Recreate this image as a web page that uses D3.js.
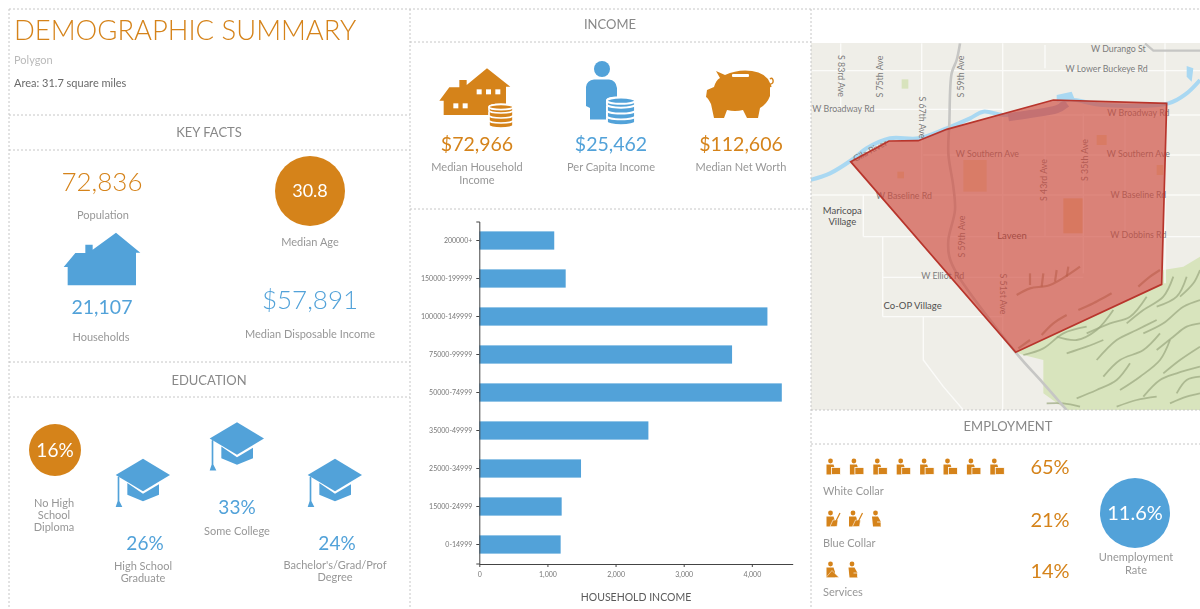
<!DOCTYPE html>
<html lang="en">
<head>
<meta charset="UTF-8">
<title>Demographic Summary</title>
<style>
	html,body{margin:0;background:#fff;}
	svg{display:block;filter:blur(0.4px);}
	text{font-family:Lato,"Open Sans",sans-serif;}
	.divider{stroke:#c6c6c6;stroke-width:1;stroke-dasharray:2 2;fill:none;}
	.road{fill:none;stroke:#fbfbf9;stroke-width:1.4;}
	.maplabel{font-size:8.8px;fill:#7c7c7c;}
	.axis path,.axis line{stroke:#444;}
	.axis text{fill:#777;font-size:7px;}
</style>
</head>
<body>
<script src="https://d3js.org/d3.v7.min.js"></script>
<script>
var ORANGE='#d5831a', BLUE='#52a2d9', GREY='#979797', TITLE='#888888';

// household income bars
var incomeBands=['200000+','150000-199999','100000-149999','75000-99999','50000-74999','35000-49999','25000-34999','15000-24999','0-14999'];
var incomeCounts=[1100,1268,4229,3710,4440,2482,1493,1209,1194];
var incomeTicks=[0,1000,2000,3000,4000];

// headline figures
var keyFactLabels=['Population','Households','Median Age','Median Disposable Income'];
var keyFactValues=['72,836','21,107','30.8','$57,891'];
var incomeLabels=[['Median Household','Income'],['Per Capita Income'],['Median Net Worth']];
var incomeValues=['$72,966','$25,462','$112,606'];
var eduLabels=[['No High','School','Diploma'],['High School','Graduate'],['Some College'],["Bachelor's/Grad/Prof",'Degree']];
var eduValues=['16%','26%','33%','24%'];
var jobLabels=['White Collar','Blue Collar','Services'];
var jobValues=['65%','21%','14%'];
var jobIcons=[[0,0,0,0,0,0,0,0],[1,1,3],[2,3]];

// map, in map units
var areaOutline=[[122,365],[237,303],[325,302],[410,268],[730,180],[1070,190],[1055,733],[617,937]];
var riverLine=[[0,420],[60,400],[125,360],[170,325],[240,295],[325,295],[410,265],[480,235],[520,215],[580,225],[660,220],[740,205],[770,180],[880,195],[1075,190],[1130,160],[1170,120]];
var riverMarsh=[[595,232],[660,222],[740,208],[770,190]];
var freewayLine=[[450,10],[440,60],[425,100],[418,250],[415,340],[430,440],[435,510],[415,600],[418,650],[440,700],[617,937],[700,1030],[770,1110]];
var topRoad=[[1005,10],[1030,32],[1170,32]];
var roadLines=[
	[[0,92],[1170,92]],[[0,208],[580,208]],[[580,225],[1170,225]],[[340,345],[1170,345]],
	[[0,465],[1170,465]],[[160,590],[1170,590]],[[218,712],[820,712]],[[218,830],[580,830]],
	[[335,10],[335,470]],[[578,10],[578,1110]],[[705,15],[705,85]],[[705,240],[705,590]],
	[[820,220],[820,700]],[[945,225],[945,600]],[[1065,10],[1065,730]],[[218,590],[218,830]],
	[[160,465],[160,590]],[[340,830],[340,960],[400,1040],[460,1110]],[[92,10],[92,205]]
];
var hillArea=[[617,937],[1055,733],[1060,690],[1120,680],[1170,650],[1170,1110],[770,1110],[700,1060],[700,960],[640,945]];
var hillRidges=[
	[[640,945],[700,925],[760,880],[830,860]],[[740,890],[800,900],[860,870],[910,810]],[[830,880],[900,850],[960,830],[1010,770]],
	[[950,850],[1000,810],[1060,770],[1090,710]],[[1040,800],[1100,770],[1130,710]],[[1110,770],[1150,730],[1170,690]],
	[[770,940],[830,920],[880,900]],[[860,960],[920,900],[980,870],[1040,840]],[[1000,880],[1060,850],[1120,800],[1170,780]],
	[[880,1010],[930,960],[1000,930],[1050,880]],[[1040,930],[1090,890],[1130,860],[1170,850]],
	[[800,1075],[860,1050],[920,1020],[960,970]],[[930,1050],[990,1010],[1050,960],[1080,900]],[[1060,1000],[1110,960],[1170,920]],
	[[1000,1070],[1050,1020],[1100,1000],[1170,980]],[[1100,1060],[1130,1020],[1170,1010]],[[920,1100],[980,1080],[1040,1070]],
	[[1080,1090],[1130,1070],[1170,1060]],[[710,1090],[760,1090],[810,1100]]
];
var hillShadeInArea=[[[625,925],[660,900]],[[695,885],[730,850],[770,825]],[[805,810],[850,790],[905,760]],[[985,740],[1020,710],[1050,690]],
	[[620,765],[660,745],[720,735],[810,680]],[[660,700],[660,735]],[[700,700],[695,740]],[[740,690],[735,725]],[[775,680],[770,710]]];
var landUse=[[460,360,70,95,'#ecdcb5'],[760,475,60,105,'#eacfa0'],[860,285,30,30,'#ecd8ae'],[1040,375,20,30,'#ecd8ae'],[262,395,20,20,'#ecd8ae'],[275,118,20,28,'#d8e3bd']];
var ponds=[[[740,165],[785,155],[795,180],[740,185]],[[1130,78],[1150,85],[1145,125],[1130,110]]];
var mapLabels=[
	['W Durango St',925,37,0,0],['W Lower Buckeye Rd',890,97,0,0],['W Broadway Rd',100,215,0,0],['W Broadway Rd',985,227,0,0],
	['W Southern Ave',532,352,0,0],['W Southern Ave',985,350,0,0],['W Baseline Rd',282,476,0,0],['W Baseline Rd',985,473,0,0],
	['W Dobbins Rd',985,594,0,0],['W Elliot Rd',398,718,0,0],['S 83rd Ave',84,108,90,0],['S 75th Ave',219,110,-90,0],
	['S 67th Ave',326,232,90,0],['S 59th Ave',463,110,-90,0],['S 59th Ave',466,590,-90,0],['S 51st Ave',570,762,90,0],
	['S 43rd Ave',711,420,-90,0],['S 35th Ave',833,360,-90,0],['Gila River',185,340,-28,0],
	['Maricopa',97,523,0,1],['Village',97,554,0,1],['Laveen',606,598,0,1],['Co-OP Village',308,806,0,1]
];

var svg=d3.select('body').append('svg').attr('width',1200).attr('height',609);

function label(lines,x,y,opts){
	opts=opts||{};
	var t=svg.append('g');
	[].concat(lines).forEach(function(s,i){
		t.append('text').attr('x',x).attr('y',y+i*(opts.lh||12.5))
			.attr('text-anchor',opts.anchor||'middle')
			.attr('font-size',opts.size||11)
			.attr('font-weight',opts.weight||400)
			.attr('fill',opts.color||GREY)
			.text(s);
	});
}
// big figures go light, small ones would wash out under the blur
function big(s,x,y,size,color){label(s,x,y,{size:size,color:color,weight:size>=25?300:400});}
function badge(x,y,r,color,s,size){
	svg.append('circle').attr('cx',x).attr('cy',y).attr('r',r).attr('fill',color);
	label(s,x,y+size*0.36,{size:size,color:'#fff'});
}

// ---- map goes first so the panel lines sit on it
var mapX=d3.scaleLinear().domain([0,1170]).range([810,1200]);
var mapY=d3.scaleLinear().domain([0,1125]).range([40,415]);
var mapLine=d3.line().x(function(d){return mapX(d[0]);}).y(function(d){return mapY(d[1]);});
var smooth=d3.line().x(function(d){return mapX(d[0]);}).y(function(d){return mapY(d[1]);}).curve(d3.curveCatmullRom);

svg.append('defs').append('clipPath').attr('id','mapclip').append('rect')
	.attr('x',811).attr('y',43).attr('width',389).attr('height',367);
var map=svg.append('g').attr('clip-path','url(#mapclip)');
map.append('rect').attr('x',811).attr('y',43).attr('width',389).attr('height',367).attr('fill','#efeee8');
map.append('path').attr('d',mapLine(hillArea)+'Z').attr('fill','#d8e4bd');
map.selectAll('.ridge').data(hillRidges).enter().append('path').attr('d',smooth)
	.attr('fill','none').attr('stroke','#9aa67f').attr('stroke-width',1.8).attr('opacity',.7);
map.selectAll('.use').data(landUse).enter().append('rect')
	.attr('x',function(d){return mapX(d[0]);}).attr('y',function(d){return mapY(d[1]);})
	.attr('width',function(d){return mapX(d[2])-mapX(0);}).attr('height',function(d){return mapY(d[3])-mapY(0);})
	.attr('fill',function(d){return d[4];});
map.selectAll('.road').data(roadLines).enter().append('path').attr('class','road').attr('d',mapLine);
map.append('path').attr('d',smooth(riverLine)).attr('fill','none').attr('stroke','#a9d8f2').attr('stroke-width',4);
map.append('path').attr('d',smooth(riverMarsh)).attr('fill','none').attr('stroke','#b0bcd6').attr('stroke-width',8);
map.selectAll('.pond').data(ponds).enter().append('path').attr('d',function(d){return mapLine(d)+'Z';}).attr('fill','#a9d8f2');
map.append('path').attr('d',smooth(freewayLine)).attr('fill','none').attr('stroke','#c6c6c4').attr('stroke-width',2.6);
map.append('path').attr('d',mapLine(topRoad)).attr('fill','none').attr('stroke','#c6c6c4').attr('stroke-width',2.2);
map.selectAll('.shade').data(hillShadeInArea).enter().append('path').attr('d',smooth)
	.attr('fill','none').attr('stroke','#8a7a55').attr('stroke-width',2.2).attr('opacity',.55);
map.selectAll('.maplabel').data(mapLabels).enter().append('text').attr('class','maplabel')
	.attr('text-anchor','middle')
	.attr('transform',function(d){return 'translate('+mapX(d[1])+','+mapY(d[2])+') rotate('+d[3]+')';})
	.style('fill',function(d){return d[4]?'#4f4f4f':null;})
	.style('font-size',function(d){return d[4]?'9.5px':null;})
	.text(function(d){return d[0];});
// outline sits over the labels, they show through tinted
map.append('path').attr('d',mapLine(areaOutline)+'Z')
	.attr('fill','#cf4a3e').attr('fill-opacity',.66).attr('stroke','#b8352c').attr('stroke-width',1.7);

// ---- panel lines
var dividers=[[9,9,1200,9],[9,9,9,609],[410,9,410,609],[811,9,811,609],[9,115,410,115],[9,150,410,150],[9,362,410,362],[9,397,410,397],
	[410,42,811,42],[410,209,811,209],[811,410,1200,410],[811,444,1200,444]];
svg.selectAll('.divider').data(dividers).enter().append('line').attr('class','divider')
	.attr('x1',function(d){return d[0];}).attr('y1',function(d){return d[1];})
	.attr('x2',function(d){return d[2];}).attr('y2',function(d){return d[3];});

// ---- icons
var iconLine=d3.line();
function icon(pts,x,y,color){
	svg.append('path').attr('transform','translate('+x+','+y+') scale(.3333)').attr('d',iconLine(pts)+'Z').attr('fill',color);
}
var houseShape=[[-115,0],[-80,-42],[-50,-42],[-50,-67],[-28,-67],[-28,-52],[42,-103],[115,-43],[102,-43],[102,55],[-103,55],[-103,0]];
var bigHouseShape=[[-110,2],[-80,-38],[-50,-38],[-50,-60],[-28,-60],[-28,-45],[33,-95],[103,-40],[90,-40],[90,45],[-97,45],[-97,2]];
var capBoard=[[-82,0],[0,-49],[81,0],[0,49]];
var capBase=[[-47,24],[0,56],[48,28],[48,59],[0,79],[-47,59]];
var capTassel=[[-76,6],[-71,4],[-71,78],[-62,96],[-82,96],[-76,78]];

function coins(x,y,color,k){
	var g=svg.append('g').attr('transform','translate('+x+','+y+') scale('+k+')');
	[3,2,1,0].forEach(function(i){
		var top=i*15-24;
		g.append('path').attr('d','M-36,'+top+' L-36,'+(top+10)+' A36,8 0 0 0 36,'+(top+10)+' L36,'+top+' A36,8 0 0 0 -36,'+top+' Z')
			.attr('fill',color).attr('stroke','#fff').attr('stroke-width',5);
	});
	g.append('ellipse').attr('cx',0).attr('cy',-24).attr('rx',36).attr('ry',8).attr('fill',color).attr('stroke','#fff').attr('stroke-width',5);
}
function gradCap(x,y){
	icon(capBoard,x,y,BLUE); icon(capBase,x,y,BLUE); icon(capTassel,x,y,BLUE);
}
function worker(x,y,kind){
	var g=svg.append('g').attr('transform','translate('+x+','+y+')').attr('fill',ORANGE);
	g.append('circle').attr('cx',-2.5).attr('cy',-6).attr('r',2.4);
	if(kind==3){
		g.append('path').attr('d','M-6,-2.5 L0,-2.5 L3,3 L3,7.5 L-5,7.5 Z');
		g.append('path').attr('d','M-1,3 L3,3 L3,7').attr('fill','none').attr('stroke','#fff').attr('stroke-width',.7);
		return;
	}
	g.append('path').attr('d','M-6.5,-2.5 L0.5,-2.5 L2,2 L2,7.5 L-6.5,7.5 Z');
	if(kind==0){
		g.append('rect').attr('x',-1.5).attr('y',0.5).attr('width',9).attr('height',7).attr('stroke','#fff').attr('stroke-width',.8);
	}else if(kind==1){
		g.append('path').attr('d','M0,1 L5,1 L4,7.5 L-3,7.5 Z').attr('stroke','#fff').attr('stroke-width',.6);
		g.append('path').attr('d','M3,2 L7,-6').attr('stroke',ORANGE).attr('stroke-width',1.2);
	}else{
		g.append('path').attr('d','M-7,7.5 L-1,0.5 L6,7.5 Z').attr('stroke','#fff').attr('stroke-width',.5);
	}
}

// ---- left column
label('DEMOGRAPHIC SUMMARY',14,40,{anchor:'start',size:27.4,color:ORANGE,weight:300});
label('Polygon',14,64,{anchor:'start',size:11,color:'#bababa'});
label('Area: 31.7 square miles',14,87,{anchor:'start',size:11,color:'#6a6a6a'});
label('KEY FACTS',209,137,{size:13,color:TITLE});
big(keyFactValues[0],102,191,26,ORANGE);
label(keyFactLabels[0],103,219);
icon(houseShape,102,267,BLUE);
big(keyFactValues[1],102,314,19.5,BLUE);
label(keyFactLabels[1],101,341);
badge(310,191,35,ORANGE,keyFactValues[2],18);
label(keyFactLabels[2],310,246);
big(keyFactValues[3],310,309,26,BLUE);
label(keyFactLabels[3],310,338);
label('EDUCATION',209,385,{size:13,color:TITLE});

badge(55,450,26,ORANGE,eduValues[0],19);
label(eduLabels[0],54,507,{lh:12});
gradCap(143,475);
big(eduValues[1],145,550,19,BLUE);
label(eduLabels[1],143,570,{lh:12});
gradCap(237,438.5);
big(eduValues[2],237,514,19,BLUE);
label(eduLabels[2],237,535);
gradCap(335,475);
big(eduValues[3],337,550,19,BLUE);
label(eduLabels[3],335,569,{lh:12});

// ---- middle column
label('INCOME',610,29,{size:13,color:TITLE});
icon(bigHouseShape,476,100,ORANGE);
[[200,268],[228,268],[256,268],[130,310],[158,310]].forEach(function(w){
	svg.append('rect').attr('x',410+w[0]/3).attr('y',w[1]/3).attr('width',5).attr('height',5).attr('fill','#fff');
});
coins(501,115,ORANGE,.3333);
big(incomeValues[0],477,151,19.5,ORANGE);
label(incomeLabels[0],477,171,{lh:13});

svg.append('circle').attr('cx',602).attr('cy',69).attr('r',8).attr('fill',BLUE);
svg.append('path').attr('d','M590,119.5 L590,108 L586,106 L586,87 Q587,80 594,79.5 L609,79.5 Q616,80 617,88 L617,119.5 Z').attr('fill',BLUE);
coins(621,110,BLUE,.39);
big(incomeValues[1],611,151,19.5,BLUE);
label(incomeLabels[1],611,171);

svg.append('path').attr('d','M716,71 L725,75 Q738,69 752,71 Q766,73 770,83 Q773,88 770,87 L770,96 Q767,104 760,108 L758,118 L747,118 L743,110 Q735,112 727,110 L724,118 L725,118 L714,118 L711,104 Q708,98 706,97 L707,90 L714,87 Q716,80 720,78 Z').attr('fill',ORANGE);
svg.append('rect').attr('x',732).attr('y',74).attr('width',17).attr('height',3).attr('rx',1).attr('fill','#fff');
svg.append('path').attr('d','M767,84 Q774,85 773,80 Q772,77 770,79').attr('fill','none').attr('stroke',ORANGE).attr('stroke-width',1.4);
big(incomeValues[2],741,151,19.5,ORANGE);
label(incomeLabels[2],741,171);

// ---- income bar chart
var x=d3.scaleLinear().domain([0,4600]).range([479.3,792.7]);
var y=d3.scaleBand().domain(incomeBands).range([221.5,563.5]).paddingInner(0.52).paddingOuter(0.26);

svg.selectAll('.bar').data(incomeBands).enter().append('rect').attr('class','bar')
	.attr('x',x(0))
	.attr('y',function(d){return y(d);})
	.attr('width',function(d,i){return x(incomeCounts[i])-x(0);})
	.attr('height',y.bandwidth())
	.attr('fill',BLUE);

svg.append('g').attr('class','axis').attr('transform','translate(479.3,0)')
	.call(d3.axisLeft(y).tickSize(3).tickPadding(4));
svg.append('g').attr('class','axis').attr('transform','translate(0,564)')
	.call(d3.axisBottom(x).tickValues(incomeTicks).tickFormat(d3.format(',')).tickSize(3).tickSizeOuter(0).tickPadding(5));
label('HOUSEHOLD INCOME',636,601,{size:10.5,color:'#5a5a5a'});

// ---- employment
label('EMPLOYMENT',1008,431,{size:13,color:TITLE});
var rowY=[467,519,570], rowLabel=[495,547,596], rowPct=[474,527,578], rowStep=[23.4,22.5,21.5];
jobLabels.forEach(function(name,r){
	jobIcons[r].forEach(function(kind,i){
		worker(833+i*rowStep[r],rowY[r],kind);
	});
	label(name,823,rowLabel[r],{anchor:'start'});
	big(jobValues[r],1050,rowPct[r],20,ORANGE);
});
badge(1135,513,35,BLUE,'11.6%',20);
label(['Unemployment','Rate'],1136,561,{lh:13});
</script>
</body>
</html>
